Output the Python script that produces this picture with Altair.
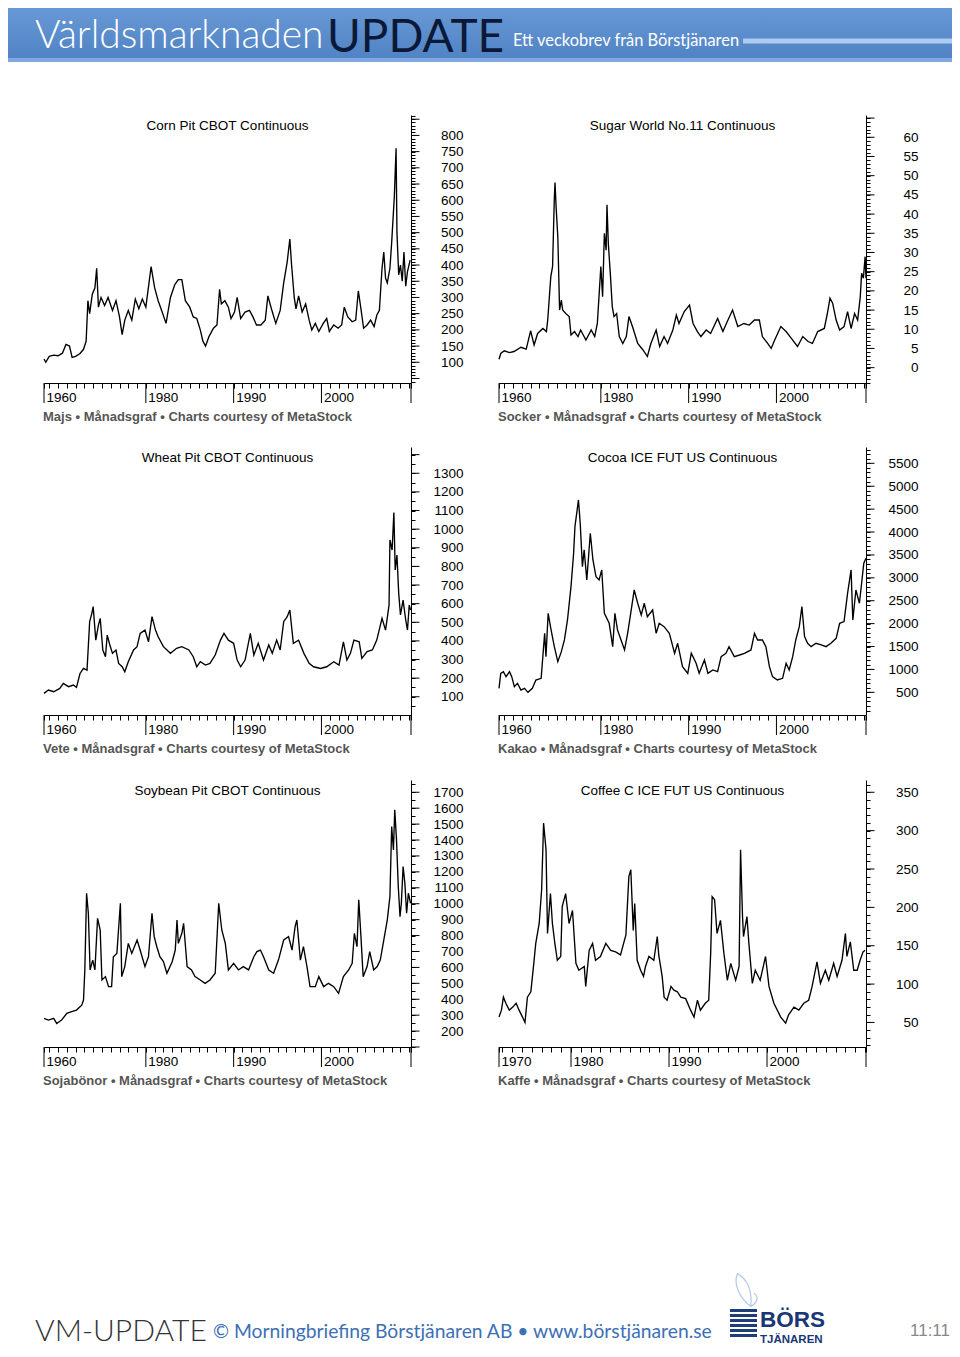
import math
import altair as alt
import pandas as pd

VW = 944
VH = 1341
FONT = "Liberation Sans"

CORN = [(1968.4, 110), (1968.6, 100), (1969.0, 118), (1969.5, 122), (1970.0, 120), (1970.5, 128), (1970.9, 155),
        (1971.3, 150), (1971.6, 115), (1972.0, 118), (1972.5, 127), (1972.9, 140), (1973.2, 165), (1973.4, 290),
        (1973.6, 250), (1973.9, 310), (1974.2, 330), (1974.4, 390), (1974.6, 270), (1974.9, 300), (1975.3, 275),
        (1975.7, 300), (1976.2, 260), (1976.6, 290), (1977.0, 240), (1977.3, 185), (1977.6, 230), (1978.0, 260),
        (1978.4, 230), (1978.8, 295), (1979.2, 265), (1979.6, 295), (1980.0, 270), (1980.6, 395), (1981.0, 330),
        (1981.4, 290), (1981.8, 260), (1982.3, 220), (1982.8, 300), (1983.3, 340), (1983.7, 355), (1984.1, 355),
        (1984.5, 290), (1985.0, 270), (1985.4, 240), (1985.8, 235), (1986.2, 200), (1986.5, 165), (1986.8, 150),
        (1987.2, 180), (1987.7, 205), (1988.1, 215), (1988.4, 325), (1988.6, 280), (1989.0, 290), (1989.4, 270),
        (1989.7, 235), (1990.1, 255), (1990.4, 300), (1990.8, 235), (1991.3, 255), (1991.8, 260), (1992.2, 240),
        (1992.6, 215), (1993.1, 215), (1993.6, 230), (1993.9, 305), (1994.3, 265), (1994.8, 220), (1995.3, 260),
        (1995.7, 345), (1996.1, 410), (1996.4, 480), (1996.6, 400), (1996.9, 300), (1997.1, 265), (1997.4, 305),
        (1997.8, 255), (1998.2, 280), (1998.6, 230), (1998.9, 200), (1999.3, 220), (1999.7, 195), (2000.2, 220),
        (2000.6, 235), (2000.9, 195), (2001.4, 215), (2001.9, 205), (2002.3, 215), (2002.6, 270), (2003.0, 240),
        (2003.5, 225), (2003.9, 230), (2004.2, 320), (2004.5, 265), (2004.8, 205), (2005.2, 215), (2005.6, 230),
        (2006.0, 210), (2006.3, 245), (2006.6, 260), (2006.9, 390), (2007.1, 440), (2007.3, 360), (2007.5, 345),
        (2007.8, 390), (2008.0, 470), (2008.3, 610), (2008.5, 760), (2008.6, 500), (2008.8, 370), (2009.0, 400),
        (2009.2, 350), (2009.4, 440), (2009.6, 335), (2009.8, 380), (2010.1, 415)]

SUGAR = [(1968.4, 2.2), (1968.6, 3.7), (1969.0, 4.4), (1969.6, 3.9), (1970.1, 4.2), (1970.9, 5.3), (1971.5, 4.8),
         (1972.0, 9.6), (1972.4, 5.9), (1972.8, 8.9), (1973.4, 10.2), (1973.8, 9.4), (1973.95, 12.4), (1974.3, 23.7),
         (1974.5, 26.3), (1974.7, 44), (1974.78, 48.2), (1974.9, 42), (1975.1, 34), (1975.3, 15), (1975.5, 17.6),
         (1975.65, 15), (1976.0, 14.1), (1976.4, 13.3), (1976.6, 8.5), (1977.0, 9.4), (1977.4, 8.1), (1977.7, 9.8),
         (1978.3, 7.2), (1978.9, 9.8), (1979.3, 8.1), (1979.6, 11.5), (1980.0, 26.3), (1980.2, 18.5), (1980.4, 35),
         (1980.6, 30.6), (1980.7, 42.4), (1980.85, 32.4), (1981.1, 23.7), (1981.3, 15.9), (1981.5, 13.3),
         (1981.8, 14.1), (1982.1, 8.1), (1982.5, 6.3), (1982.9, 8.1), (1983.2, 13.3), (1983.6, 10.7), (1984.2, 6.3),
         (1984.8, 4.6), (1985.3, 2.9), (1985.7, 6.3), (1986.3, 9.8), (1986.7, 5.5), (1987.2, 8.1), (1987.6, 6.3),
         (1988.2, 9.8), (1988.6, 13.7), (1988.9, 11.5), (1989.5, 14.6), (1990.1, 16.3), (1990.5, 11.5),
         (1991.0, 9.4), (1991.4, 8.1), (1992.0, 9.8), (1992.5, 8.9), (1993.3, 12.8), (1993.9, 9.4), (1994.4, 12),
         (1995.0, 15), (1995.6, 10.7), (1996.3, 11.5), (1996.9, 11.1), (1997.5, 12.4), (1998.05, 12.4),
         (1998.4, 8.1), (1999.0, 6.3), (1999.4, 5), (1999.8, 7.2), (2000.5, 10.7), (2001.1, 9.4), (2001.7, 7.6),
         (2002.4, 5.5), (2003.0, 8.1), (2003.6, 6.8), (2004.1, 6.3), (2004.7, 9.4), (2005.45, 10.2), (2005.8, 14.1),
         (2006.1, 18.1), (2006.4, 16.8), (2006.8, 12.4), (2007.2, 9.8), (2007.7, 10.7), (2008.1, 14.6),
         (2008.5, 10.2), (2008.9, 14.1), (2009.25, 12.4), (2009.55, 18.5), (2009.7, 24.6), (2009.9, 23.3),
         (2010.1, 28.9), (2010.2, 23.3)]

WHEAT = [(1968.4, 118), (1968.9, 136), (1969.5, 127), (1970.2, 145), (1970.6, 172), (1971.2, 154), (1971.75, 163),
         (1972.1, 150), (1972.5, 225), (1972.9, 252), (1973.3, 243), (1973.6, 503), (1973.85, 548), (1974.0, 584),
         (1974.3, 404), (1974.6, 485), (1974.8, 521), (1975.1, 351), (1975.4, 315), (1975.6, 431), (1975.9, 378),
         (1976.2, 333), (1976.6, 351), (1976.9, 279), (1977.3, 261), (1977.6, 234), (1978.0, 288), (1978.6, 351),
         (1979.0, 369), (1979.35, 440), (1979.9, 458), (1980.3, 395), (1980.7, 530), (1981.1, 458), (1981.4, 422),
         (1982.0, 369), (1982.8, 333), (1983.5, 360), (1984.1, 369), (1984.9, 351), (1985.4, 315), (1985.8, 261),
         (1986.2, 288), (1986.8, 270), (1987.3, 279), (1987.9, 324), (1988.5, 404), (1988.9, 440), (1989.4, 404),
         (1990.0, 387), (1990.4, 297), (1990.8, 261), (1991.3, 297), (1991.9, 440), (1992.3, 324), (1992.8, 387),
         (1993.4, 297), (1994.0, 378), (1994.4, 333), (1994.9, 404), (1995.3, 351), (1995.7, 503), (1996.1, 530),
         (1996.4, 566), (1996.8, 387), (1997.4, 404), (1998.0, 333), (1998.6, 279), (1999.1, 261), (1999.9, 252),
         (2000.6, 261), (2001.4, 288), (2002.0, 270), (2002.5, 395), (2002.9, 297), (2003.3, 333), (2003.7, 404),
         (2004.3, 395), (2004.6, 306), (2005.2, 342), (2005.8, 351), (2006.3, 404), (2006.9, 521), (2007.3, 458),
         (2007.7, 592), (2007.8, 942), (2008.05, 888), (2008.25, 1089), (2008.4, 781), (2008.6, 861),
         (2008.8, 655), (2009.0, 539), (2009.3, 619), (2009.6, 512), (2009.8, 458), (2010.0, 592), (2010.15, 566)]

COCOA = [(1968.4, 587), (1968.6, 915), (1968.9, 951), (1969.2, 842), (1969.6, 951), (1969.85, 842), (1970.15, 624),
         (1970.5, 697), (1970.9, 551), (1971.3, 587), (1971.7, 500), (1972.2, 587), (1972.6, 769), (1973.2, 806),
         (1973.6, 1789), (1973.75, 1279), (1974.0, 2225), (1974.3, 1898), (1974.7, 1497), (1975.1, 1170),
         (1975.5, 1388), (1975.85, 1643), (1976.2, 2080), (1976.6, 2808), (1976.9, 3536), (1977.05, 4118),
         (1977.45, 4700), (1977.65, 4191), (1977.9, 3245), (1978.1, 3609), (1978.4, 2953), (1978.8, 3973),
         (1979.1, 3390), (1979.45, 3026), (1979.8, 2953), (1980.1, 3172), (1980.4, 2225), (1980.95, 2007),
         (1981.35, 1497), (1981.6, 2225), (1981.9, 1861), (1982.3, 1643), (1982.7, 1425), (1983.05, 1789),
         (1983.4, 2225), (1983.8, 2735), (1984.2, 2444), (1984.6, 2189), (1984.95, 2444), (1985.3, 2153),
         (1985.9, 2298), (1986.3, 1789), (1986.65, 2007), (1987.2, 1934), (1987.8, 1789), (1988.4, 1352),
         (1988.75, 1570), (1989.3, 1061), (1989.9, 915), (1990.3, 1352), (1990.85, 1134), (1991.2, 915),
         (1991.8, 1206), (1992.2, 915), (1992.75, 988), (1993.3, 951), (1993.7, 1279), (1994.25, 1352),
         (1994.6, 1497), (1995.2, 1279), (1995.8, 1315), (1996.35, 1352), (1997.1, 1425), (1997.5, 1789),
         (1997.85, 1643), (1998.4, 1643), (1998.8, 1497), (1999.2, 1061), (1999.55, 842), (2000.1, 769),
         (2000.7, 806), (2001.1, 1134), (2001.45, 988), (2001.85, 1279), (2002.2, 1643), (2002.6, 1934),
         (2002.9, 2371), (2003.2, 1716), (2003.55, 1570), (2003.95, 1497), (2004.5, 1570), (2005.1, 1534),
         (2005.65, 1497), (2006.2, 1570), (2006.8, 1679), (2007.2, 2007), (2007.7, 2044), (2008.1, 2662),
         (2008.5, 3172), (2008.7, 2080), (2009.05, 2735), (2009.45, 2444), (2009.7, 2881), (2009.95, 3317),
         (2010.2, 3427)]

SOYBEAN = [(1968.4, 280), (1968.9, 269), (1969.5, 280), (1969.85, 248), (1970.4, 269), (1971.0, 311), (1971.55, 322),
           (1972.1, 332), (1972.7, 363), (1972.9, 395), (1973.05, 584), (1973.25, 1066), (1973.45, 940),
           (1973.65, 584), (1973.95, 646), (1974.2, 584), (1974.5, 908), (1974.8, 835), (1975.0, 521),
           (1975.4, 542), (1975.75, 479), (1976.1, 479), (1976.3, 667), (1976.7, 688), (1977.1, 1003),
           (1977.25, 542), (1977.6, 605), (1978.0, 751), (1978.4, 688), (1979.0, 772), (1979.35, 709),
           (1979.9, 605), (1980.3, 667), (1980.7, 940), (1980.95, 793), (1981.25, 730), (1981.6, 667),
           (1982.0, 636), (1982.4, 563), (1983.0, 636), (1983.35, 709), (1983.55, 898), (1983.7, 751),
           (1984.1, 814), (1984.3, 877), (1984.7, 605), (1985.2, 584), (1985.6, 542), (1986.2, 521),
           (1986.75, 500), (1987.3, 521), (1987.9, 563), (1988.3, 1003), (1988.65, 835), (1989.05, 751),
           (1989.4, 584), (1990.0, 626), (1990.55, 584), (1991.1, 605), (1991.7, 584), (1992.3, 667),
           (1992.65, 699), (1993.05, 709), (1993.4, 667), (1994.0, 584), (1994.55, 563), (1995.1, 646),
           (1995.7, 772), (1996.25, 793), (1996.65, 709), (1997.0, 856), (1997.2, 898), (1997.6, 646),
           (1997.95, 730), (1998.35, 605), (1998.7, 479), (1999.3, 479), (1999.7, 542), (2000.25, 479),
           (2000.8, 500), (2001.4, 479), (2001.95, 437), (2002.5, 542), (2003.1, 584), (2003.5, 626),
           (2003.75, 814), (2004.05, 730), (2004.25, 1024), (2004.5, 793), (2004.75, 542), (2005.2, 605),
           (2005.5, 699), (2005.95, 584), (2006.35, 605), (2006.7, 646), (2007.1, 772), (2007.5, 898),
           (2007.8, 1045), (2008.0, 1485), (2008.2, 1338), (2008.35, 1590), (2008.55, 1401), (2008.75, 1108),
           (2008.95, 919), (2009.1, 1003), (2009.3, 1233), (2009.5, 1129), (2009.7, 940), (2009.9, 1066),
           (2010.15, 1003)]

COFFEE = [(1972.65, 57), (1972.9, 66), (1973.1, 83), (1973.35, 75), (1973.7, 66), (1974.05, 70), (1974.4, 75),
          (1974.7, 66), (1975.05, 57), (1975.3, 50), (1975.55, 83), (1975.9, 90), (1976.2, 127), (1976.4, 153),
          (1976.75, 179), (1977.0, 223), (1977.2, 310), (1977.45, 275), (1977.6, 166), (1977.9, 218),
          (1978.1, 179), (1978.35, 153), (1978.6, 131), (1978.95, 136), (1979.1, 201), (1979.45, 218),
          (1979.8, 179), (1980.15, 196), (1980.5, 127), (1980.8, 118), (1981.35, 123), (1981.5, 97),
          (1981.85, 144), (1982.2, 153), (1982.5, 131), (1983.0, 136), (1983.55, 153), (1984.05, 144),
          (1984.55, 142), (1985.05, 138), (1985.6, 164), (1985.9, 240), (1986.1, 249), (1986.35, 170),
          (1986.5, 205), (1986.75, 131), (1987.1, 118), (1987.4, 110), (1987.6, 123), (1987.95, 136),
          (1988.45, 131), (1988.8, 162), (1988.95, 138), (1989.3, 110), (1989.5, 83), (1989.8, 79), (1990.2, 97),
          (1990.5, 92), (1990.85, 90), (1991.2, 83), (1991.7, 81), (1992.2, 66), (1992.55, 57), (1992.9, 79),
          (1993.2, 66), (1993.7, 75), (1994.05, 79), (1994.25, 140), (1994.4, 214), (1994.65, 210), (1994.9, 166),
          (1995.25, 183), (1995.6, 140), (1995.95, 105), (1996.3, 127), (1996.8, 105), (1997.15, 123),
          (1997.3, 275), (1997.5, 188), (1997.6, 162), (1997.95, 188), (1998.15, 153), (1998.5, 101),
          (1998.8, 118), (1999.3, 105), (1999.85, 136), (2000.2, 97), (2000.7, 75), (2001.4, 57), (2001.9, 49),
          (2002.2, 60), (2002.75, 70), (2003.25, 66), (2003.75, 75), (2004.25, 79), (2004.6, 97), (2005.1, 129),
          (2005.45, 101), (2005.95, 118), (2006.3, 105), (2006.8, 127), (2007.15, 110), (2007.65, 131),
          (2008.0, 166), (2008.15, 136), (2008.5, 155), (2008.85, 118), (2009.2, 118), (2009.5, 131),
          (2009.8, 142), (2010.0, 144)]

TITLES = ["Corn Pit CBOT Continuous", "Sugar World No.11 Continuous", "Wheat Pit CBOT Continuous",
          "Cocoa ICE FUT US Continuous", "Soybean Pit CBOT Continuous", "Coffee C ICE FUT US Continuous"]
CAPTIONS = ["Majs • Månadsgraf • Charts courtesy of MetaStock", "Socker • Månadsgraf • Charts courtesy of MetaStock",
            "Vete • Månadsgraf • Charts courtesy of MetaStock", "Kakao • Månadsgraf • Charts courtesy of MetaStock",
            "Sojabönor • Månadsgraf • Charts courtesy of MetaStock", "Kaffe • Månadsgraf • Charts courtesy of MetaStock"]
X_LABELED = [1980, 1990, 2000]

# panel frames (left, right, top, bottom) in view pixels
COLS = [(36, 403), (491, 858)]
ROWS = [(107, 375), (439, 707), (772, 1039)]

one = pd.DataFrame({"a": [0]})


def panel(series, col, row, x0, x1, first_label, ydom, minor, major, lab_lo, lab_hi, lab_step, title, caption):
    L, R = COLS[col]
    T, B = ROWS[row]
    df = pd.DataFrame(series, columns=["year", "value"])
    xs = alt.Scale(domain=[x0, x1], range=[L, R], nice=False, zero=False)
    ys = alt.Scale(domain=ydom, range=[B, T], nice=False, zero=False)
    xticks = [x0] + [y for y in range(math.ceil(x0), math.floor(x1) + 1)] + [x1]
    yminor = [k * minor for k in range(math.ceil(ydom[0] / minor), math.floor(ydom[1] / minor) + 1)]
    ymajor = [k * major for k in range(math.ceil(ydom[0] / major), math.floor(ydom[1] / major) + 1)]
    xexpr = (f"datum.value < {x0 + 0.01} ? '{first_label}' : "
             f"((datum.value == 1980 || datum.value == 1990 || datum.value == 2000) ? '' + datum.value : '')")
    yexpr = (f"(datum.value >= {lab_lo} && datum.value <= {lab_hi} && datum.value % {lab_step} == 0)"
             f" ? '' + datum.value : ''")
    xa = alt.Axis(
        orient="bottom", offset=B - VH, position=0, values=xticks, tickSize=5, tickColor="black", tickWidth=1,
        domainColor="black", domainWidth=1, labelExpr=xexpr, labelAlign="left", labelOffset=2, labelPadding=2,
        labelFont=FONT, labelFontSize=13.5, labelColor="black", labelOverlap=False, labelFlush=False,
        grid=False, title=None)
    ya = alt.Axis(
        orient="right", offset=R - VW, position=0, values=yminor, tickSize=4, tickColor="black", tickWidth=1,
        domainColor="black", domainWidth=1, labelExpr=yexpr, labelAlign="right", labelBaseline="middle",
        labelPadding=48, labelFont=FONT, labelFontSize=13.5, labelColor="black", labelOverlap=False,
        labelFlush=False, grid=False, title=None)
    line = alt.Chart(df).mark_line(color="black", strokeWidth=1.35).encode(
        x=alt.X("year:Q", scale=xs, axis=xa),
        y=alt.Y("value:Q", scale=ys, axis=ya),
    )
    xlong = alt.Chart(pd.DataFrame({"year": [x0] + X_LABELED + [x1]})).mark_rule(
        color="black", strokeWidth=1).encode(
        x=alt.X("year:Q", scale=xs, axis=None), y=alt.value(B), y2=alt.value(B + 20))
    ylong = alt.Chart(pd.DataFrame({"value": ymajor})).mark_rule(color="black", strokeWidth=1).encode(
        y=alt.Y("value:Q", scale=ys, axis=None), x=alt.value(R + 0.5), x2=alt.value(R + 8.5))
    ttl = alt.Chart(one).mark_text(font=FONT, fontSize=13.5, color="black", baseline="middle").encode(
        x=alt.value((L + R) / 2), y=alt.value(T + 11), text=alt.value(title))
    cap = alt.Chart(one).mark_text(font=FONT, fontSize=13, fontWeight="bold", color="#555555",
                                   align="left", baseline="middle").encode(
        x=alt.value(L - 1), y=alt.value(B + 34), text=alt.value(caption))
    return [line, xlong, ylong, ttl, cap]


layers = []
layers += panel(CORN, 0, 0, 1968.4, 2010.2, "1960", [36, 863], 10, 50, 100, 800, 50, TITLES[0], CAPTIONS[0])
layers += panel(SUGAR, 1, 0, 1968.4, 2010.2, "1960", [-4, 65.8], 1, 5, 0, 60, 5, TITLES[1], CAPTIONS[1])
layers += panel(WHEAT, 0, 1, 1968.4, 2010.2, "1960", [2, 1441], 50, 100, 100, 1300, 100, TITLES[2], CAPTIONS[2])
layers += panel(COCOA, 1, 1, 1968.4, 2010.2, "1960", [5, 5856], 100, 500, 500, 5500, 500, TITLES[3], CAPTIONS[3])
layers += panel(SOYBEAN, 0, 2, 1968.4, 2010.2, "1960", [100, 1777], 50, 100, 200, 1700, 100, TITLES[4], CAPTIONS[4])
layers += panel(COFFEE, 1, 2, 1972.65, 2010.1, "1970", [18, 366], 10, 50, 50, 350, 50, TITLES[5], CAPTIONS[5])


def txt(s, x, y, size, color, font="Lato", weight=400, align="left", baseline="alphabetic"):
    return alt.Chart(one).mark_text(font=font, fontSize=size, fontWeight=weight, color=color, align=align,
                                    baseline=baseline).encode(x=alt.value(x), y=alt.value(y), text=alt.value(s))


def box(x, x2, y, y2, color):
    return alt.Chart(one).mark_rect(color=color).encode(
        x=alt.value(x), x2=alt.value(x2), y=alt.value(y), y2=alt.value(y2))


banner = alt.Chart(one).mark_rect(color=alt.Gradient(
    gradient="linear", x1=0, x2=0, y1=0, y2=1,
    stops=[alt.GradientStop(color="#6898d5", offset=0), alt.GradientStop(color="#4f82c4", offset=1)])).encode(
    x=alt.value(0), x2=alt.value(VW), y=alt.value(0), y2=alt.value(54))

WING = ("M 0.35 1 C -0.25 0.55 -0.75 -0.3 -0.45 -1 C 0.05 -0.7 0.45 -0.1 0.35 1 "
        "M 0.35 1 C 0.7 0.75 0.9 0.45 0.55 0.2")
wing = alt.Chart(one).mark_point(shape=WING, filled=False, stroke="#8fb4e2", strokeWidth=1.2,
                                 size=1100).encode(x=alt.value(737), y=alt.value(1282))

deco = [
    banner,
    box(0, VW, 50, 54, "#7ea8de"),
    txt("Världsmarknaden", 27, 40, 39, "white", weight=300),
    txt("UPDATE", 319, 44, 46, "#0b1838"),
    txt("Ett veckobrev från Börstjänaren", 505, 37.5, 16.4, "white"),
    box(735, VW, 30.5, 35.5, "#adcbf1"),
    txt("VM-UPDATE", 27, 1333, 30, "#333333", weight=300),
    txt("© Morningbriefing Börstjänaren AB • www.börstjänaren.se", 205, 1330, 19.3, "#3d6fb5"),
    box(722, 749, 1301, 1304, "#1f3d7a"),
    box(722, 749, 1306, 1309, "#1f3d7a"),
    box(722, 749, 1311, 1314, "#1f3d7a"),
    box(722, 749, 1316, 1319, "#1f3d7a"),
    box(722, 749, 1321, 1324, "#1f3d7a"),
    box(722, 749, 1326, 1329, "#1f3d7a"),
    wing,
    txt("BÖRS", 752, 1319, 22.5, "#1a3675", font=FONT, weight="bold"),
    txt("TJÄNAREN", 752, 1334.5, 11.5, "#1a3675", font=FONT, weight="bold"),
    txt("11:11", 902, 1323, 17, "#888888", font=FONT, baseline="middle"),
]

chart = alt.layer(*deco, *layers).resolve_scale(x="independent", y="independent").properties(
    width=VW, height=VH, padding=0).configure_view(stroke="transparent")

chart.save("out.html", embed_options={"renderer": "svg", "actions": False})
